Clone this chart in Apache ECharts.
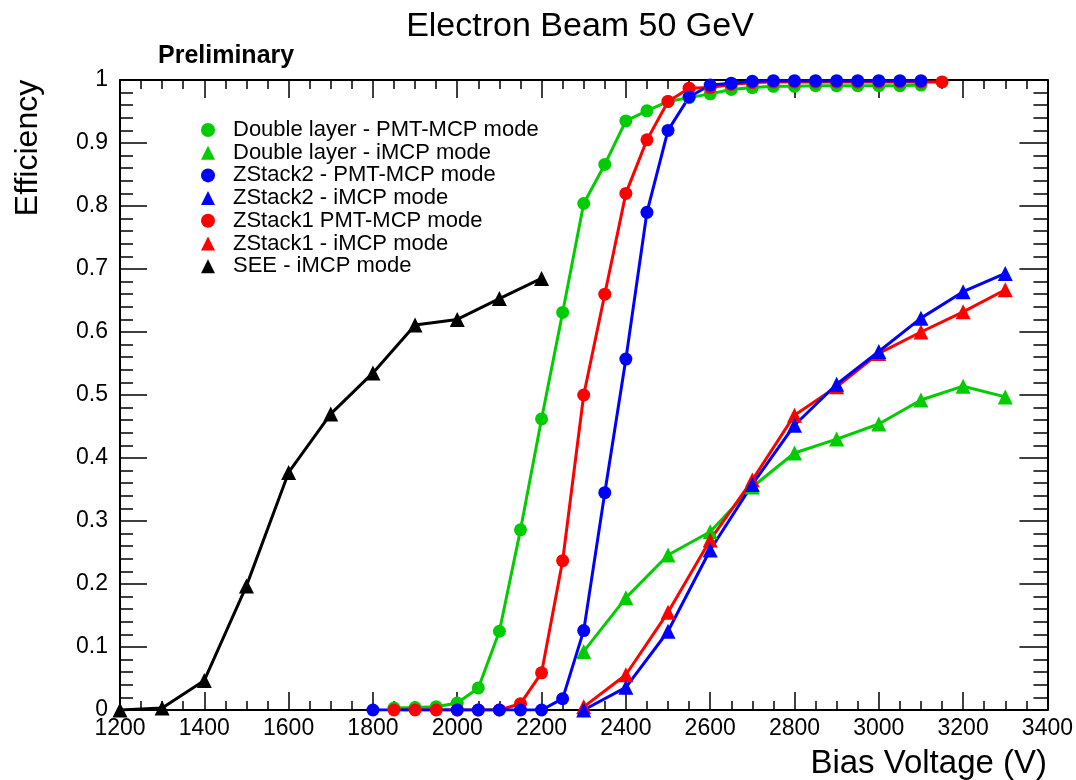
<!DOCTYPE html>
<html>
<head>
<meta charset="UTF-8">
<title>Electron Beam 50 GeV</title>
<script type="text/javascript" src="https://cdn.jsdelivr.net/npm/echarts@6/dist/echarts.min.js"></script>
<style>
  html, body { margin: 0; padding: 0; background: #fff; }
</style>
</head>
<body>

<div id="eff" style="width:1076px; height:780px"></div>
<script type="text/javascript">
// bias voltage points (V) and efficiency for each run
var seeV    = [1200, 1300, 1400, 1500, 1600, 1700, 1800, 1900, 2000, 2100, 2200];
var seeEff  = [0, 0.003, 0.047, 0.197, 0.377, 0.470, 0.535, 0.611, 0.620, 0.653, 0.685];

var dlPmtV   = [1850, 1900, 1950, 2000, 2050, 2100, 2150, 2200, 2250, 2300, 2350, 2400, 2450, 2500, 2550, 2600, 2650, 2700, 2750, 2800, 2850, 2900, 2950, 3000, 3050, 3100];
var dlPmtEff = [0.003, 0.004, 0.005, 0.011, 0.035, 0.125, 0.286, 0.462, 0.631, 0.804, 0.866, 0.935, 0.951, 0.966, 0.972, 0.978, 0.985, 0.988, 0.990, 0.990, 0.991, 0.991, 0.991, 0.991, 0.991, 0.992];

var zs1PmtV   = [1850, 1900, 1950, 2000, 2050, 2100, 2150, 2200, 2250, 2300, 2350, 2400, 2450, 2500, 2550, 2600, 2650, 2700, 2750, 2800, 2850, 2900, 2950, 3000, 3050, 3100, 3150];
var zs1PmtEff = [0, 0, 0, 0, 0, 0, 0.010, 0.059, 0.237, 0.500, 0.660, 0.820, 0.905, 0.966, 0.987, 0.988, 0.993, 0.996, 0.997, 0.997, 0.997, 0.997, 0.997, 0.997, 0.997, 0.997, 0.997];

var zs2PmtV   = [1800, 2000, 2050, 2100, 2150, 2200, 2250, 2300, 2350, 2400, 2450, 2500, 2550, 2600, 2650, 2700, 2750, 2800, 2850, 2900, 2950, 3000, 3050, 3100];
var zs2PmtEff = [0, 0, 0, 0, 0, 0, 0.018, 0.126, 0.345, 0.557, 0.790, 0.920, 0.973, 0.992, 0.995, 0.998, 0.999, 0.999, 0.999, 0.999, 0.999, 0.999, 0.999, 0.999];

var imcpV     = [2300, 2400, 2500, 2600, 2700, 2800, 2900, 3000, 3100, 3200, 3300];
var dlImcpEff  = [0.093, 0.178, 0.246, 0.283, 0.354, 0.408, 0.430, 0.454, 0.492, 0.514, 0.497];
var zs1ImcpEff = [0.005, 0.056, 0.155, 0.270, 0.365, 0.468, 0.513, 0.566, 0.600, 0.632, 0.667];
var zs2ImcpEff = [0, 0.036, 0.125, 0.254, 0.358, 0.452, 0.517, 0.569, 0.622, 0.664, 0.693];

var legendNames = [
  'Double layer - PMT-MCP mode',
  'Double layer - iMCP mode',
  'ZStack2 - PMT-MCP mode',
  'ZStack2 - iMCP mode',
  'ZStack1 PMT-MCP mode',
  'ZStack1 - iMCP mode',
  'SEE - iMCP mode'
];

var FONT = '"Liberation Sans", Arial, Helvetica, sans-serif';
var GREEN = '#00cc00', RED = '#ff0000', BLUE = '#0000ff', BLACK = '#000000';

function pairs(xs, ys) {
  return xs.map(function (x, i) { return [x, ys[i]]; });
}

function makeSeries(name, xs, ys, color, symbol) {
  return {
    name: name,
    type: 'line',
    data: pairs(xs, ys),
    symbol: symbol,
    symbolSize: symbol == 'circle' ? 13 : 15,
    showSymbol: true,
    itemStyle: { color: color },
    lineStyle: { color: color, width: 3 },
    emphasis: { disabled: true }
  };
}

var myChart = echarts.init(document.getElementById('eff'));

var tickLine = { color: '#000', width: 1.5 };
var axisLine = { show: true, onZero: false, lineStyle: { color: '#000', width: 2 } };

var option = {
  animation: false,
  backgroundColor: '#fff',
  grid: { left: 120, top: 80, width: 928, height: 630, containLabel: false },
  graphic: [
    { type: 'text', x: 580, y: 27, style: { text: 'Electron Beam 50 GeV', font: '34px ' + FONT, fill: '#000', align: 'center', verticalAlign: 'middle' } },
    { type: 'text', x: 158, y: 56, style: { text: 'Preliminary', font: 'bold 25px ' + FONT, fill: '#000', align: 'left', verticalAlign: 'middle' } },
    { type: 'text', x: 28, y: 148, rotation: Math.PI / 2, style: { text: 'Efficiency', font: '32px ' + FONT, fill: '#000', align: 'center', verticalAlign: 'middle' } },
    { type: 'text', x: 1047, y: 764, style: { text: 'Bias Voltage (V)', font: '33px ' + FONT, fill: '#000', align: 'right', verticalAlign: 'middle' } }
  ],
  legend: {
    orient: 'vertical',
    left: 196,
    top: 114,
    itemWidth: 14,
    itemHeight: 14,
    itemGap: 0.7,
    selectedMode: false,
    textStyle: { fontFamily: FONT, fontSize: 22, color: '#000', lineHeight: 20, padding: [0, 0, 0, 13] },
    data: [
      { name: legendNames[0], icon: 'circle' },
      { name: legendNames[1], icon: 'triangle' },
      { name: legendNames[2], icon: 'circle' },
      { name: legendNames[3], icon: 'triangle' },
      { name: legendNames[4], icon: 'circle' },
      { name: legendNames[5], icon: 'triangle' },
      { name: legendNames[6], icon: 'triangle' }
    ]
  },
  xAxis: [
    {
      type: 'value', position: 'bottom', min: 1200, max: 3400, interval: 200,
      axisLine: axisLine,
      axisTick: { inside: true, length: 18, lineStyle: tickLine },
      minorTick: { show: true, splitNumber: 4, length: 9, lineStyle: tickLine },
      axisLabel: { fontFamily: FONT, fontSize: 23, color: '#000', margin: 7, formatter: function (v) { return String(v); } },
      splitLine: { show: false }
    },
    {
      type: 'value', position: 'top', min: 1200, max: 3400, interval: 200,
      axisLine: axisLine,
      axisTick: { inside: true, length: 18, lineStyle: tickLine },
      minorTick: { show: true, splitNumber: 4, length: 9, lineStyle: tickLine },
      axisLabel: { show: false },
      splitLine: { show: false }
    }
  ],
  yAxis: [
    {
      type: 'value', position: 'left', min: 0, max: 1, interval: 0.1,
      axisLine: axisLine,
      axisTick: { inside: true, length: 27, lineStyle: tickLine },
      minorTick: { show: true, splitNumber: 5, length: 13, lineStyle: tickLine },
      axisLabel: { fontFamily: FONT, fontSize: 23, color: '#000', margin: 12 },
      splitLine: { show: false }
    },
    {
      type: 'value', position: 'right', min: 0, max: 1, interval: 0.1,
      axisLine: axisLine,
      axisTick: { inside: true, length: 28, lineStyle: tickLine },
      minorTick: { show: true, splitNumber: 5, length: 14, lineStyle: tickLine },
      axisLabel: { show: false },
      splitLine: { show: false }
    }
  ],
  series: [
    makeSeries(legendNames[6], seeV, seeEff, BLACK, 'triangle'),
    makeSeries(legendNames[0], dlPmtV, dlPmtEff, GREEN, 'circle'),
    makeSeries(legendNames[1], imcpV, dlImcpEff, GREEN, 'triangle'),
    makeSeries(legendNames[4], zs1PmtV, zs1PmtEff, RED, 'circle'),
    makeSeries(legendNames[5], imcpV, zs1ImcpEff, RED, 'triangle'),
    makeSeries(legendNames[2], zs2PmtV, zs2PmtEff, BLUE, 'circle'),
    makeSeries(legendNames[3], imcpV, zs2ImcpEff, BLUE, 'triangle')
  ]
};
myChart.setOption(option);
</script>
</body>
</html>
